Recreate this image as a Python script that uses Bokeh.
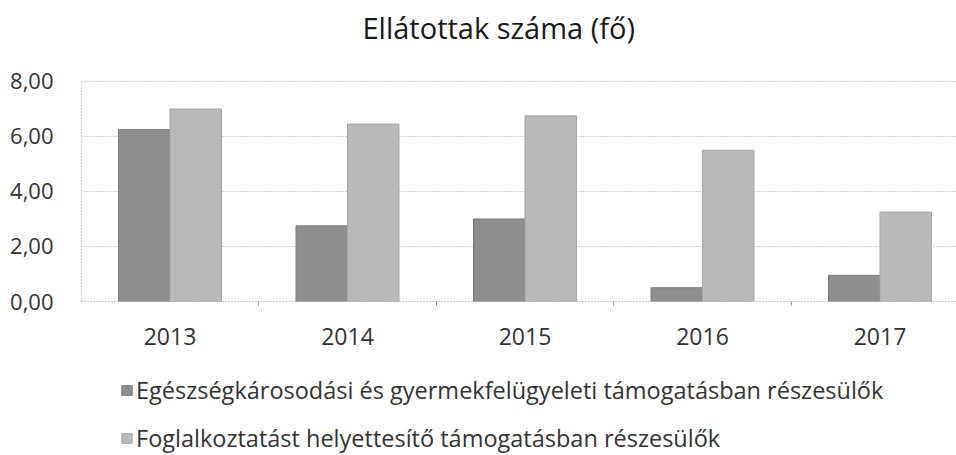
from bokeh.plotting import figure
from bokeh.models import ColumnDataSource, Legend, LegendItem, FixedTicker, Range1d, Label
from bokeh.layouts import column
from bokeh.embed import file_html
from bokeh.resources import INLINE

years = ["2013", "2014", "2015", "2016", "2017"]
series_a_name = "Egészségkárosodási és gyermekfelügyeleti támogatásban részesülők"
series_b_name = "Foglalkoztatást helyettesítő támogatásban részesülők"
series_a = [6.25, 2.75, 3.0, 0.5, 0.95]
series_b = [7.0, 6.45, 6.75, 5.5, 3.25]
y_ticks = [0, 2, 4, 6, 8]
y_tick_labels = ["0,00", "2,00", "4,00", "6,00", "8,00"]
title_text = "Ellátottak száma (fő)"

FONT = "Open Sans"
COLOR_A = "#8e8e8e"
COLOR_B = "#b9b9b9"
EDGE_A = "#7a7a7a"
EDGE_B = "#a5a5a5"
bw = 0.29
xs = list(range(len(years)))
x_bounds = [x + 0.5 for x in xs[:-1]]

src = ColumnDataSource(dict(
    xa=[x - bw / 2 for x in xs],
    xb=[x + bw / 2 for x in xs],
    a=series_a,
    b=series_b,
))


def strip(height):
    f = figure(width=956, height=height, output_backend="svg", toolbar_location=None,
               x_range=Range1d(0, 1), y_range=Range1d(0, 1),
               x_axis_location=None, y_axis_location=None,
               min_border_left=0, min_border_right=0, min_border_top=0,
               min_border_bottom=0)
    f.outline_line_color = None
    f.grid.visible = False
    return f


# ---- title strip
tt = strip(55)
tt.add_layout(Label(x=281, y=28, x_units="screen", y_units="screen",
                    text=title_text, text_font=FONT, text_font_size="29px",
                    text_color="#1a1a1a", text_align="left",
                    text_baseline="alphabetic"))

# ---- main chart
p = figure(width=956, height=310, output_backend="svg", toolbar_location=None,
           x_range=Range1d(-0.4986, 4.431), y_range=Range1d(0, 8.036),
           min_border_left=81, min_border_right=0, min_border_top=25,
           min_border_bottom=64, title=None)
p.outline_line_color = None
p.background_fill_color = "white"
p.border_fill_color = "white"

p.vbar(x="xa", top="a", width=bw, source=src, fill_color=COLOR_A,
       line_color=EDGE_A, line_width=1)
p.vbar(x="xb", top="b", width=bw, source=src, fill_color=COLOR_B,
       line_color=EDGE_B, line_width=1)

p.yaxis.ticker = FixedTicker(ticks=y_ticks)
p.yaxis.major_label_overrides = {t: l for t, l in zip(y_ticks, y_tick_labels)}
p.yaxis.major_tick_line_color = None
p.yaxis.minor_tick_line_color = None
p.yaxis.axis_line_color = "#9a9a9a"
p.yaxis.axis_line_dash = "1 2"
p.yaxis.major_label_standoff = 22
p.yaxis.major_label_text_font = FONT
p.yaxis.major_label_text_font_size = "22px"
p.yaxis.major_label_text_color = "#333333"

p.xaxis.ticker = FixedTicker(ticks=xs, minor_ticks=x_bounds)
p.xaxis.major_label_overrides = {i: y for i, y in zip(xs, years)}
p.xaxis.major_tick_line_color = None
p.xaxis.minor_tick_line_color = "#9a9a9a"
p.xaxis.minor_tick_in = 0
p.xaxis.minor_tick_out = 4
p.xaxis.axis_line_color = "#9a9a9a"
p.xaxis.axis_line_dash = "1 2"
p.xaxis.major_label_standoff = 20
p.xaxis.major_label_text_font = FONT
p.xaxis.major_label_text_font_size = "23px"
p.xaxis.major_label_text_color = "#333333"

p.xgrid.grid_line_color = None
p.ygrid.ticker = FixedTicker(ticks=y_ticks)
p.ygrid.grid_line_color = "#a0a0a0"
p.ygrid.grid_line_dash = "1 2"
p.ygrid.grid_line_width = 1

# ---- legend strip (series renderers hidden; only their legend swatches show)
lg = strip(90)
la = lg.vbar(x="xa", top="a", width=bw, source=src, fill_color=COLOR_A, line_color=EDGE_A)
lb = lg.vbar(x="xb", top="b", width=bw, source=src, fill_color=COLOR_B, line_color=EDGE_B)
la.visible = False
lb.visible = False
legend = Legend(items=[LegendItem(label=series_a_name, renderers=[la]),
                       LegendItem(label=series_b_name, renderers=[lb])],
                location=(39, 0), orientation="vertical",
                label_text_font=FONT, label_text_font_size="23.5px",
                label_text_color="#333333", glyph_width=13, glyph_height=12,
                label_height=34, spacing=14, padding=0, margin=0,
                background_fill_alpha=0, border_line_color=None,
                inactive_fill_alpha=0, label_standoff=3)
lg.add_layout(legend, "center")

layout = column(tt, p, lg, spacing=0)
open("out.html", "w").write(file_html(layout, INLINE))
